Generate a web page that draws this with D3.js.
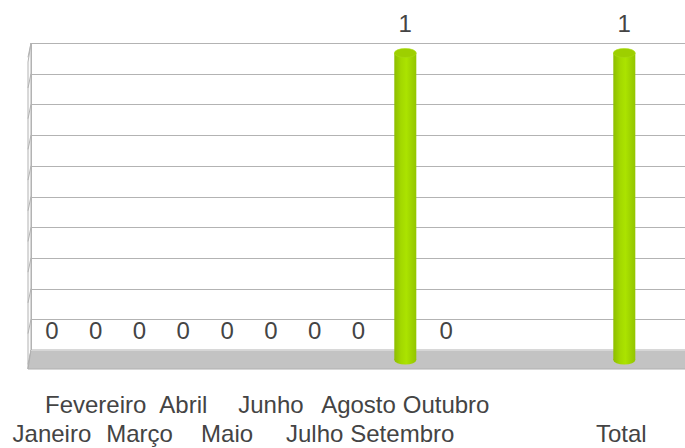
<!DOCTYPE html>
<html>
<head>
<meta charset="utf-8">
<script src="https://cdn.jsdelivr.net/npm/d3@7"></script>
<style>
    body { margin: 0; background: white; }
    svg text { font-family: "Liberation Sans", Arial, sans-serif; fill: #444; }
</style>
</head>
<body>
<div id="chart"></div>
<script>
// Categories (three empty slots between Outubro and Total)
let categories = ["Janeiro", "Fevereiro", "Março", "Abril", "Maio", "Junho", "Julho",
    "Agosto", "Setembro", "Outubro", "", "", "", "Total"];
// Values, null where nothing is drawn
let values = [0, 0, 0, 0, 0, 0, 0, 0, 1, 0, null, null, null, 1];
// Y axis ticks (grid only, no labels)
let yTicks = d3.range(0, 1.01, 0.1);

let width = 685,
    height = 448;

let svg = d3.select("#chart").append("svg")
    .attr("width", width)
    .attr("height", height);

let x = d3.scaleBand()
    .domain(d3.range(categories.length))
    .range([30, 30 + 43.8 * categories.length]);

let y = d3.scaleLinear()
    .domain([0, 1])
    .range([350, 43]);

// Depth of the 3D box
let depthX = -3,
    depthY = 19,
    wallLeft = 31,
    wallRight = 700;

// Gradient for the cylinders
let defs = svg.append("defs");
let grad = defs.append("linearGradient")
    .attr("id", "cyl")
    .attr("x1", "0%").attr("x2", "100%")
    .attr("y1", "0%").attr("y2", "0%");
grad.append("stop").attr("offset", "0%").attr("stop-color", "#8dbd00");
grad.append("stop").attr("offset", "30%").attr("stop-color", "#a3d800");
grad.append("stop").attr("offset", "55%").attr("stop-color", "#abe300");
grad.append("stop").attr("offset", "100%").attr("stop-color", "#93c500");

// Left wall
svg.append("polygon")
    .attr("points", [[wallLeft, y(1)], [wallLeft, y(0)], [wallLeft + depthX, y(0) + depthY], [wallLeft + depthX, y(1) + depthY]].join(" "))
    .attr("fill", "#fafafa")
    .attr("stroke", "#b3b3b3")
    .attr("stroke-width", 1);

svg.append("g")
    .selectAll("line")
    .data(yTicks)
    .join("line")
        .attr("x1", wallLeft)
        .attr("y1", d => y(d))
        .attr("x2", wallLeft + depthX)
        .attr("y2", d => y(d) + depthY * 0.75)
        .attr("stroke", "#b3b3b3")
        .attr("stroke-width", 1);

// Floor
svg.append("polygon")
    .attr("points", [[wallLeft, y(0)], [wallRight, y(0)], [wallRight, y(0) + depthY], [wallLeft + depthX, y(0) + depthY]].join(" "))
    .attr("fill", "#c3c3c3")
    .attr("stroke", "#b0b0b0")
    .attr("stroke-width", 1);

// Grid lines on the back wall
svg.append("g")
    .selectAll("line")
    .data(yTicks)
    .join("line")
        .attr("x1", wallLeft)
        .attr("x2", wallRight)
        .attr("y1", d => Math.round(y(d)) + 0.5)
        .attr("y2", d => Math.round(y(d)) + 0.5)
        .attr("stroke", d => d === 0 ? "#d6d6d6" : "#b3b3b3")
        .attr("stroke-width", 1);

svg.append("line")
    .attr("x1", wallLeft + 0.5).attr("x2", wallLeft + 0.5)
    .attr("y1", y(1)).attr("y2", y(0))
    .attr("stroke", "#b3b3b3");

// Cylinders
let data = values.map((v, i) => ({i: i, v: v})).filter(d => d.v !== null);
let barR = 11,
    barRy = 4.5,
    barShift = 3,
    barDepth = 10;
let cx = d => x(d.i) + x.bandwidth() / 2 + barShift;

let bars = svg.append("g")
    .selectAll("g")
    .data(data.filter(d => d.v > 0))
    .join("g");

bars.append("ellipse")
    .attr("cx", cx)
    .attr("cy", y(0) + barDepth)
    .attr("rx", barR)
    .attr("ry", barRy)
    .attr("fill", "url(#cyl)");

bars.append("rect")
    .attr("x", d => cx(d) - barR)
    .attr("width", barR * 2)
    .attr("y", d => y(d.v) + barDepth)
    .attr("height", d => y(0) - y(d.v))
    .attr("fill", "url(#cyl)");

bars.append("ellipse")
    .attr("cx", cx)
    .attr("cy", d => y(d.v) + barDepth)
    .attr("rx", barR)
    .attr("ry", barRy)
    .attr("fill", "#9dcf00")
    .attr("stroke", "#a9dc14")
    .attr("stroke-width", 0.6);

// Value labels
svg.append("g")
    .selectAll("text")
    .data(data)
    .join("text")
        .attr("x", d => x(d.i) + x.bandwidth() / 2 + (d.v > 0 ? barShift : 0))
        .attr("y", d => y(d.v) - 11)
        .attr("text-anchor", "middle")
        .style("font-size", "24px")
        .text(d => d.v);

// Category labels, staggered on two rows when they would overlap
let rowY = [442, 413];
let labels = svg.append("g")
    .selectAll("text")
    .data(categories.map((c, i) => ({i: i, c: c})).filter(d => d.c !== ""))
    .join("text")
        .attr("x", d => x(d.i) + x.bandwidth() / 2)
        .attr("text-anchor", "middle")
        .style("font-size", "24px")
        .text(d => d.c);

let lastRight = -Infinity;
labels.each(function(d) {
    let w = this.getComputedTextLength(),
        cxl = x(d.i) + x.bandwidth() / 2,
        row = cxl - w / 2 < lastRight + 2 ? 1 : 0;
    if (row === 0) {
        lastRight = cxl + w / 2;
    }
    d3.select(this).attr("y", rowY[row]);
});
</script>
</body>
</html>
